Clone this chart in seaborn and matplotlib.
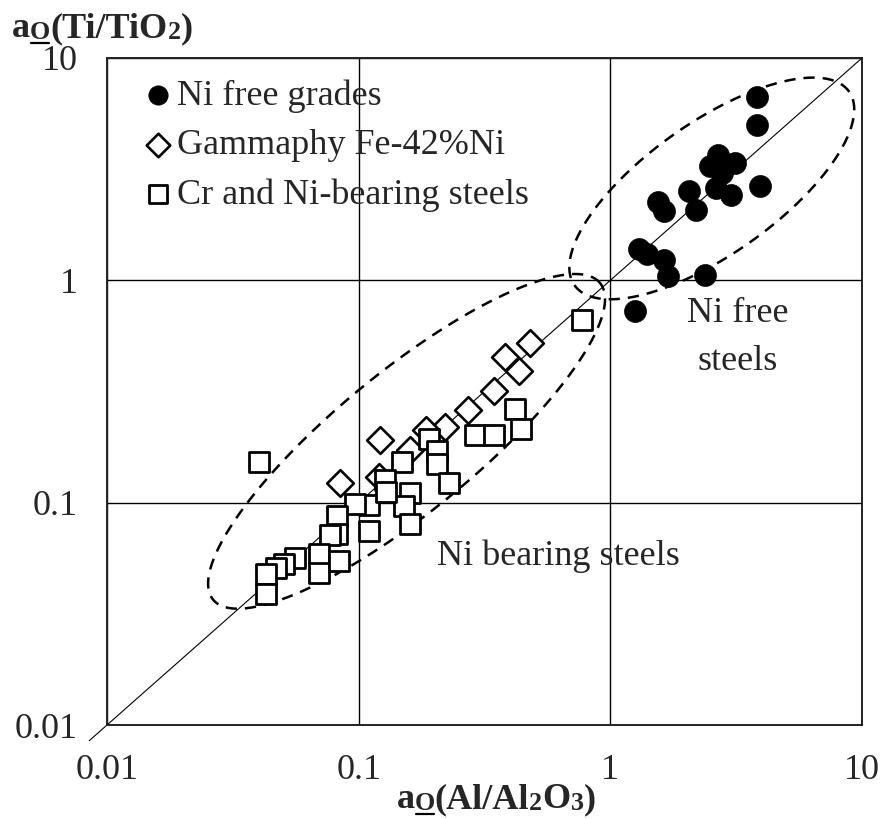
import numpy as np
import pandas as pd
import seaborn as sns
import matplotlib
matplotlib.use("Agg")
import matplotlib.pyplot as plt
from matplotlib.lines import Line2D

# ---------------- data ----------------
ni_free_x = [3.82, 3.82, 2.67, 2.48, 3.12, 2.79, 2.62, 3.01, 3.92, 2.06,
             2.18, 1.54, 1.64, 1.30, 1.40, 1.64, 1.69, 2.37, 1.25]
ni_free_y = [6.67, 5.00, 3.67, 3.27, 3.38, 3.05, 2.61, 2.43, 2.66, 2.53,
             2.08, 2.24, 2.06, 1.38, 1.31, 1.23, 1.05, 1.06, 0.73]

gamma_x = [0.480, 0.382, 0.434, 0.345, 0.272, 0.220, 0.185, 0.121, 0.160, 0.120, 0.084]
gamma_y = [0.522, 0.452, 0.391, 0.318, 0.262, 0.220, 0.213, 0.192, 0.173, 0.131, 0.123]

crni_x = [0.0403, 0.774, 0.418, 0.442, 0.290, 0.345, 0.190, 0.205, 0.205, 0.228,
          0.148, 0.127, 0.160, 0.151, 0.160, 0.1096, 0.0964, 0.1096, 0.0817, 0.0817,
          0.0766, 0.0693, 0.0693, 0.0832, 0.0556, 0.0507, 0.0471, 0.0430, 0.0430, 0.129]
crni_y = [0.153, 0.662, 0.264, 0.215, 0.202, 0.202, 0.194, 0.170, 0.150, 0.123,
          0.153, 0.127, 0.110, 0.0963, 0.080, 0.098, 0.099, 0.0744, 0.0869, 0.0721,
          0.0714, 0.0587, 0.0482, 0.0546, 0.0563, 0.0529, 0.0508, 0.0478, 0.0388, 0.112]

tick_vals = [0.01, 0.1, 1, 10]
tick_labels = ["0.01", "0.1", "1", "10"]
series_labels = ["Ni free grades", "Gammaphy Fe-42%Ni", "Cr and Ni-bearing steels"]

# axis titles as pieces: (text, size factor, baseline drop px, underline)
ytitle_parts = [("a", 1.0, 0, False), ("O", 0.72, 2, True), ("(Ti/TiO", 1.0, 0, False),
                ("2", 0.72, 2, False), (")", 1.0, 0, False)]
xtitle_parts = [("a", 1.0, 0, False), ("O", 0.72, 2, True), ("(Al/Al", 1.0, 0, False),
                ("2", 0.72, 2, False), ("O", 1.0, 0, False), ("3", 0.72, 2, False),
                (")", 1.0, 0, False)]

# ---------------- style ----------------
sns.set_style("white")
plt.rcParams["font.family"] = ["Liberation Serif", "DejaVu Serif"]

FS = 26
W, H = 885, 819

fig = plt.figure(figsize=(W / 100, H / 100), dpi=100)
ax = fig.add_axes([107 / W, 1 - 725 / H, 755 / W, 667 / H])
ax.set_xscale("log")
ax.set_yscale("log")
ax.set_xlim(0.01, 10)
ax.set_ylim(0.01, 10)

df_free = pd.DataFrame({"x": ni_free_x, "y": ni_free_y})
df_gam = pd.DataFrame({"x": gamma_x, "y": gamma_y})
df_crni = pd.DataFrame({"x": crni_x, "y": crni_y})

# diagonal y = x
diag = np.array([0.0085, 10.0])
ax.plot(diag, diag, color="black", lw=0.8, clip_on=False, zorder=2)

sns.scatterplot(data=df_free, x="x", y="y", ax=ax, marker="o", s=250,
                color="black", edgecolor="black", linewidth=0.5,
                label=series_labels[0], zorder=4)
sns.scatterplot(data=df_gam, x="x", y="y", ax=ax, marker="D", s=185,
                facecolor="white", edgecolor="black", linewidth=1.9,
                label=series_labels[1], zorder=4)
sns.scatterplot(data=df_crni, x="x", y="y", ax=ax, marker="s", s=225,
                facecolor="white", edgecolor="black", linewidth=2.0,
                label=series_labels[2], zorder=5)


def dashed_ellipse(xc, yc, a_px, b_px, ang_deg):
    cx, cy = ax.transData.transform((xc, yc))
    t = np.linspace(0, 2 * np.pi, 400)
    th = np.deg2rad(ang_deg)
    px = cx + a_px * np.cos(t) * np.cos(th) - b_px * np.sin(t) * np.sin(th)
    py = cy + a_px * np.cos(t) * np.sin(th) + b_px * np.sin(t) * np.cos(th)
    d = ax.transData.inverted().transform(np.column_stack([px, py]))
    ax.plot(d[:, 0], d[:, 1], color="black", lw=1.8, ls=(0, (4.5, 3.2)),
            zorder=3, clip_on=False)


dashed_ellipse(2.53, 2.59, 168, 66, 35.2)
dashed_ellipse(0.155, 0.1887, 250, 70, 39.3)

# grid, ticks, spines
ax.set_xticks(tick_vals)
ax.set_xticklabels(tick_labels)
ax.set_yticks(tick_vals)
ax.set_yticklabels(tick_labels)
ax.minorticks_off()
ax.tick_params(axis="both", length=0, labelsize=FS)
ax.tick_params(axis="x", pad=21)
ax.tick_params(axis="y", pad=21)
ax.grid(True, which="major", color="black", lw=1.0)
ax.set_axisbelow(True)
for sp in ax.spines.values():
    sp.set_color("#222222")
    sp.set_linewidth(1.4)
ax.set_xlabel("")
ax.set_ylabel("")

# region labels
ax.text(3.2, 0.647, "Ni free", fontsize=FS, ha="center", va="baseline")
ax.text(3.2, 0.394, "steels", fontsize=FS, ha="center", va="baseline")
ax.text(0.621, 0.0522, "Ni bearing steels", fontsize=FS, ha="center", va="baseline")

# axis titles built from pieces (underlined O)
renderer = fig.canvas.get_renderer()


def piece_title(parts, x_px, base_px_top, center):
    base = H - base_px_top
    texts = []
    x = 0.0
    for s, f, dy, ul in parts:
        t = fig.text(0, 0, s, fontsize=FS * f, fontweight="bold",
                     ha="left", va="baseline")
        w = t.get_window_extent(renderer).width
        texts.append((t, x, dy, ul, w))
        x += w
    total = x
    x0 = x_px - total / 2 if center else x_px
    for t, xo, dy, ul, w in texts:
        t.set_position(((x0 + xo) / W, (base - dy) / H))
        if ul:
            e = t.get_window_extent(renderer)
            yl = base - dy - 4
            fig.add_artist(Line2D([(e.x0 + 1) / W, (e.x1 - 1) / W], [yl / H, yl / H],
                                  transform=fig.transFigure, color="black", lw=1.6))


piece_title(ytitle_parts, 12, 37, center=False)
piece_title(xtitle_parts, 496, 808, center=True)

leg = ax.legend(loc="upper left", bbox_to_anchor=(0.053, 0.9685), frameon=False,
                fontsize=FS, handlelength=0.6, handletextpad=0.23,
                labelspacing=0.45, borderaxespad=0, borderpad=0, markerscale=0.88)

fig.savefig("out.png", dpi=100)
